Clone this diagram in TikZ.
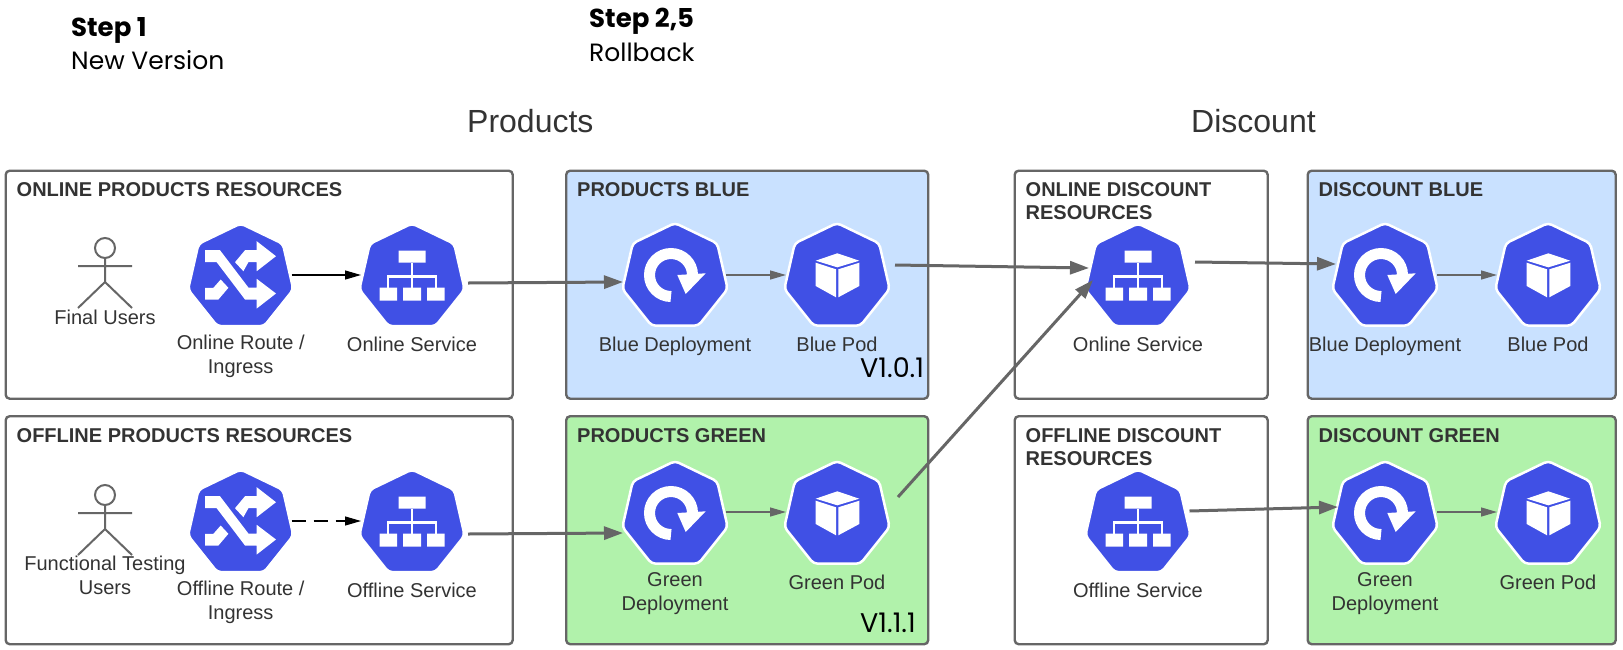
\documentclass[tikz,border=0pt]{standalone}
\usepackage{fontspec}
\setmainfont{Liberation Sans}
\newfontfamily\stepfont{Poppins}
\usetikzlibrary{arrows.meta,positioning,shapes.geometric}
\definecolor{kube}{HTML}{4050E5}
\definecolor{edge}{HTML}{666666}
\definecolor{ink}{HTML}{333333}
\definecolor{bluebg}{HTML}{C9E1FF}
\definecolor{greenbg}{HTML}{B1F2AB}
\tikzset{
  res/.style={draw=edge,line width=2.4pt,rounded corners=4pt,fill=white,minimum width=#1,minimum height=228pt,anchor=north west,inner sep=0pt},
  res/.default=507pt,
  ttl/.style={font=\fontsize{20}{23}\selectfont\bfseries,text=ink,align=left,inner sep=0pt,anchor=north west},
  lbl/.style={font=\fontsize{20}{23.5}\selectfont,text=ink,align=center,inner sep=0pt,anchor=north,execute at begin node=\strut},
  hdr/.style={font=\fontsize{32}{36}\selectfont,text=ink,inner sep=0pt,anchor=base west},
  stepb/.style={font=\fontsize{26}{30}\stepfont\bfseries\selectfont,inner sep=0pt,anchor=base west},
  stept/.style={font=\fontsize{25}{30}\stepfont\selectfont,inner sep=0pt,anchor=base west},
  ver/.style={font=\fontsize{27}{30}\stepfont\selectfont,inner sep=0pt,anchor=base west},
  icon/.style={regular polygon,regular polygon sides=7,minimum size=108pt,inner sep=0pt,fill=kube,draw=white,line width=2.5pt,rounded corners=4pt},
  ar/.style={-{Triangle[length=19pt,width=13pt]},line width=3pt,draw=edge},
  thin ar/.style={-{Triangle[length=16pt,width=9pt]},line width=1.3pt,draw=edge},
  blk ar/.style={-{Triangle[length=16pt,width=9pt]},line width=1.2pt,draw=black},
  actor/.pic={
    \draw[edge,line width=2pt] (0,-30) circle[radius=10pt] (-27,-12) -- (27,-12) (0,-20) -- (0,4) (-27,30) -- (0,4) -- (27,30);
  },
  routeg/.pic={
    \fill[white] (-35.7,-27.3) -- (-20.7,-27.3) -- (7.7,10) -- (16,10) -- (16,1.3) -- (35.3,16) -- (16,31) -- (16,22) -- (4.3,22) -- (-24,-15.3) -- (-35.7,-15.3) -- cycle;
    \fill[white] (35.3,-21.3) -- (16,-36.3) -- (16,-27.3) -- (4.3,-27.3) -- (-5.7,-15.3) -- (2.7,-6.3) -- (7.7,-15.3) -- (16,-15.3) -- (16,-6.3) -- cycle;
    \fill[white] (-35.7,10.3) -- (-27.3,10.3) -- (-20,2) -- (-12.3,10.3) -- (-22.3,22) -- (-35.7,22) -- cycle;
  },
  svcg/.pic={
    \fill[white] (-13.5,-27) rectangle (13.5,-15) (-32.5,10) rectangle (-15,23) (-9,10) rectangle (9,23) (15,10) rectangle (32.5,23);
    \draw[white,line width=2.6pt] (0,-15) -- (0,10) (-24,10) -- (-24,-1) -- (24,-1) -- (24,10);
  },
  depg/.pic={
    \draw[white,line width=11pt] (-4,19.5) arc[start angle=270,end angle=0,radius=21.5pt];
    \fill[white] (2.3,-2) -- (30.7,-3.7) -- (10.7,17) -- cycle;
  },
  podg/.pic={
    \fill[white] (0.3,-23.7) -- (22.3,-16.3) -- (0.3,-9.7) -- (-21.3,-16.3) -- cycle;
    \fill[white] (-21.3,-14.3) -- (-1,-7.7) -- (-1,20.3) -- (-21.3,9) -- cycle;
    \fill[white] (1.3,-7.7) -- (22.3,-14.3) -- (22.3,9) -- (1.3,20.3) -- cycle;
  },
}
\begin{document}
\begin{tikzpicture}[x=1pt,y=-1pt,node distance=7.8pt]
\useasboundingbox (0,0) rectangle (1623,649);
\node[stepb] (st1) at (71,36) {Step 1};
\node[stept] (st1b) at (71,69) {New Version};
\node[stepb] (st2) at (589,27) {Step 2,5};
\node[stept] (st2b) at (589,61) {Rollback};
\node[hdr] (hP) at (467,132) {Products};
\node[hdr] (hD) at (1191,132) {Discount};
% resource boxes
\node[res] (onP) at (4.5,169.5) {};
\node[res] (offP) at (4.5,415) {};
\node[res=362pt,fill=bluebg] (blueP) at (565,169.5) {};
\node[res=362pt,fill=greenbg] (greenP) at (565,415) {};
\node[res=253pt] (onD) at (1013.5,169.5) {};
\node[res=253pt] (offD) at (1013.5,415) {};
\node[res=308pt,fill=bluebg] (blueD) at (1306.5,169.5) {};
\node[res=308pt,fill=greenbg] (greenD) at (1306.5,415) {};
\node[ttl,below right=13pt and 12pt of onP.north west] (tOnP) {ONLINE PRODUCTS RESOURCES};
\node[ttl,below right=13pt and 12pt of offP.north west] (tOffP) {OFFLINE PRODUCTS RESOURCES};
\node[ttl,below right=13pt and 12pt of blueP.north west] (tBlueP) {PRODUCTS BLUE};
\node[ttl,below right=13pt and 12pt of greenP.north west] (tGreenP) {PRODUCTS GREEN};
\node[ttl,below right=13pt and 12pt of onD.north west] (tOnD) {ONLINE DISCOUNT\\RESOURCES};
\node[ttl,below right=13pt and 12pt of offD.north west] (tOffD) {OFFLINE DISCOUNT\\RESOURCES};
\node[ttl,below right=13pt and 12pt of blueD.north west] (tBlueD) {DISCOUNT BLUE};
\node[ttl,below right=13pt and 12pt of greenD.north west] (tGreenD) {DISCOUNT GREEN};
% users
\pic at (105,278) {actor};
\pic at (105,525) {actor};
\node[lbl] (uOn) at (105,307.5) {Final Users};
\node[lbl] (uOff) at (105,556) {Functional Testing\\Users};
% icons
\node[icon] (routeOn) at (240.7,277.5) {};
\node[icon] (svcOn) at (412,277.5) {};
\node[icon] (routeOff) at (240.7,523.5) {};
\node[icon] (svcOff) at (412,523.5) {};
\node[icon] (depBlue) at (675,277) {};
\node[icon] (podBlue) at (837,277) {};
\node[icon] (depGreen) at (675,515) {};
\node[icon] (podGreen) at (837,515) {};
\node[icon] (svcOnD) at (1138,277.5) {};
\node[icon] (svcOffD) at (1138,523.5) {};
\node[icon] (depBlueD) at (1385,277) {};
\node[icon] (podBlueD) at (1548,277) {};
\node[icon] (depGreenD) at (1385,515) {};
\node[icon] (podGreenD) at (1548,515) {};
\pic at (routeOn) {routeg}; \pic at (routeOff) {routeg};
\pic at (svcOn) {svcg}; \pic at (svcOff) {svcg}; \pic at (svcOnD) {svcg}; \pic at (svcOffD) {svcg};
\pic at (depBlue) {depg}; \pic at (depGreen) {depg}; \pic at (depBlueD) {depg}; \pic at (depGreenD) {depg};
\pic at (podBlue) {podg}; \pic at (podGreen) {podg}; \pic at (podBlueD) {podg}; \pic at (podGreenD) {podg};
% icon labels
\node[lbl,below=of routeOn] (lRouteOn) {Online Route /\\Ingress};
\node[lbl,below=of svcOn] (lSvcOn) {Online Service};
\node[lbl,below=of routeOff] (lRouteOff) {Offline Route /\\Ingress};
\node[lbl,below=of svcOff] (lSvcOff) {Offline Service};
\node[lbl,below=of depBlue] (lDepBlue) {Blue Deployment};
\node[lbl,below=of podBlue] (lPodBlue) {Blue Pod};
\node[lbl,below=of depGreen] (lDepGreen) {Green\\Deployment};
\node[lbl,below=of podGreen] (lPodGreen) {Green Pod};
\node[lbl,below=of svcOnD] (lSvcOnD) {Online Service};
\node[lbl,below=of svcOffD] (lSvcOffD) {Offline Service};
\node[lbl,below=of depBlueD] (lDepBlueD) {Blue Deployment};
\node[lbl,below=of podBlueD] (lPodBlueD) {Blue Pod};
\node[lbl,below=of depGreenD] (lDepGreenD) {Green\\Deployment};
\node[lbl,below=of podGreenD] (lPodGreenD) {Green Pod};
\node[ver] (v1) at (860,377) {V1.0.1};
\node[ver] (v2) at (860,632) {V1.1.1};
% connectors
\draw[blk ar] ([xshift=51pt,yshift=2.5pt]routeOn.center) -- ([xshift=-51pt,yshift=2.5pt]svcOn.center);
\draw[blk ar,dash pattern=on 14pt off 8pt] ([xshift=51pt,yshift=2.5pt]routeOff.center) -- ([xshift=-51pt,yshift=2.5pt]svcOff.center);
\draw[ar] ([xshift=56pt,yshift=-5.5pt]svcOn.center) -- ([xshift=-52pt,yshift=-5pt]depBlue.center);
\draw[ar] ([xshift=56pt,yshift=-10.5pt]svcOff.center) -- ([xshift=-52pt,yshift=-18pt]depGreen.center);
\draw[thin ar] ([xshift=51pt,yshift=2pt]depBlue.center) -- ([xshift=-51pt,yshift=2pt]podBlue.center);
\draw[thin ar] ([xshift=51pt,yshift=3pt]depGreen.center) -- ([xshift=-51pt,yshift=3pt]podGreen.center);
\draw[ar] ([xshift=58pt,yshift=12pt]podBlue.center) -- ([xshift=-49pt,yshift=9.5pt]svcOnD.center);
\draw[ar] ([xshift=61pt,yshift=18pt]podGreen.center) -- ([xshift=-45pt,yshift=-2.5pt]svcOnD.center);
\draw[ar] ([xshift=57pt,yshift=15.5pt]svcOnD.center) -- ([xshift=-49pt,yshift=13pt]depBlueD.center);
\draw[ar] ([xshift=51.5pt,yshift=12.5pt]svcOffD.center) -- ([xshift=-47pt,yshift=8pt]depGreenD.center);
\draw[thin ar] ([xshift=52pt,yshift=2pt]depBlueD.center) -- ([xshift=-51pt,yshift=2pt]podBlueD.center);
\draw[thin ar] ([xshift=52pt,yshift=3pt]depGreenD.center) -- ([xshift=-51pt,yshift=3pt]podGreenD.center);
\end{tikzpicture}
\end{document}
